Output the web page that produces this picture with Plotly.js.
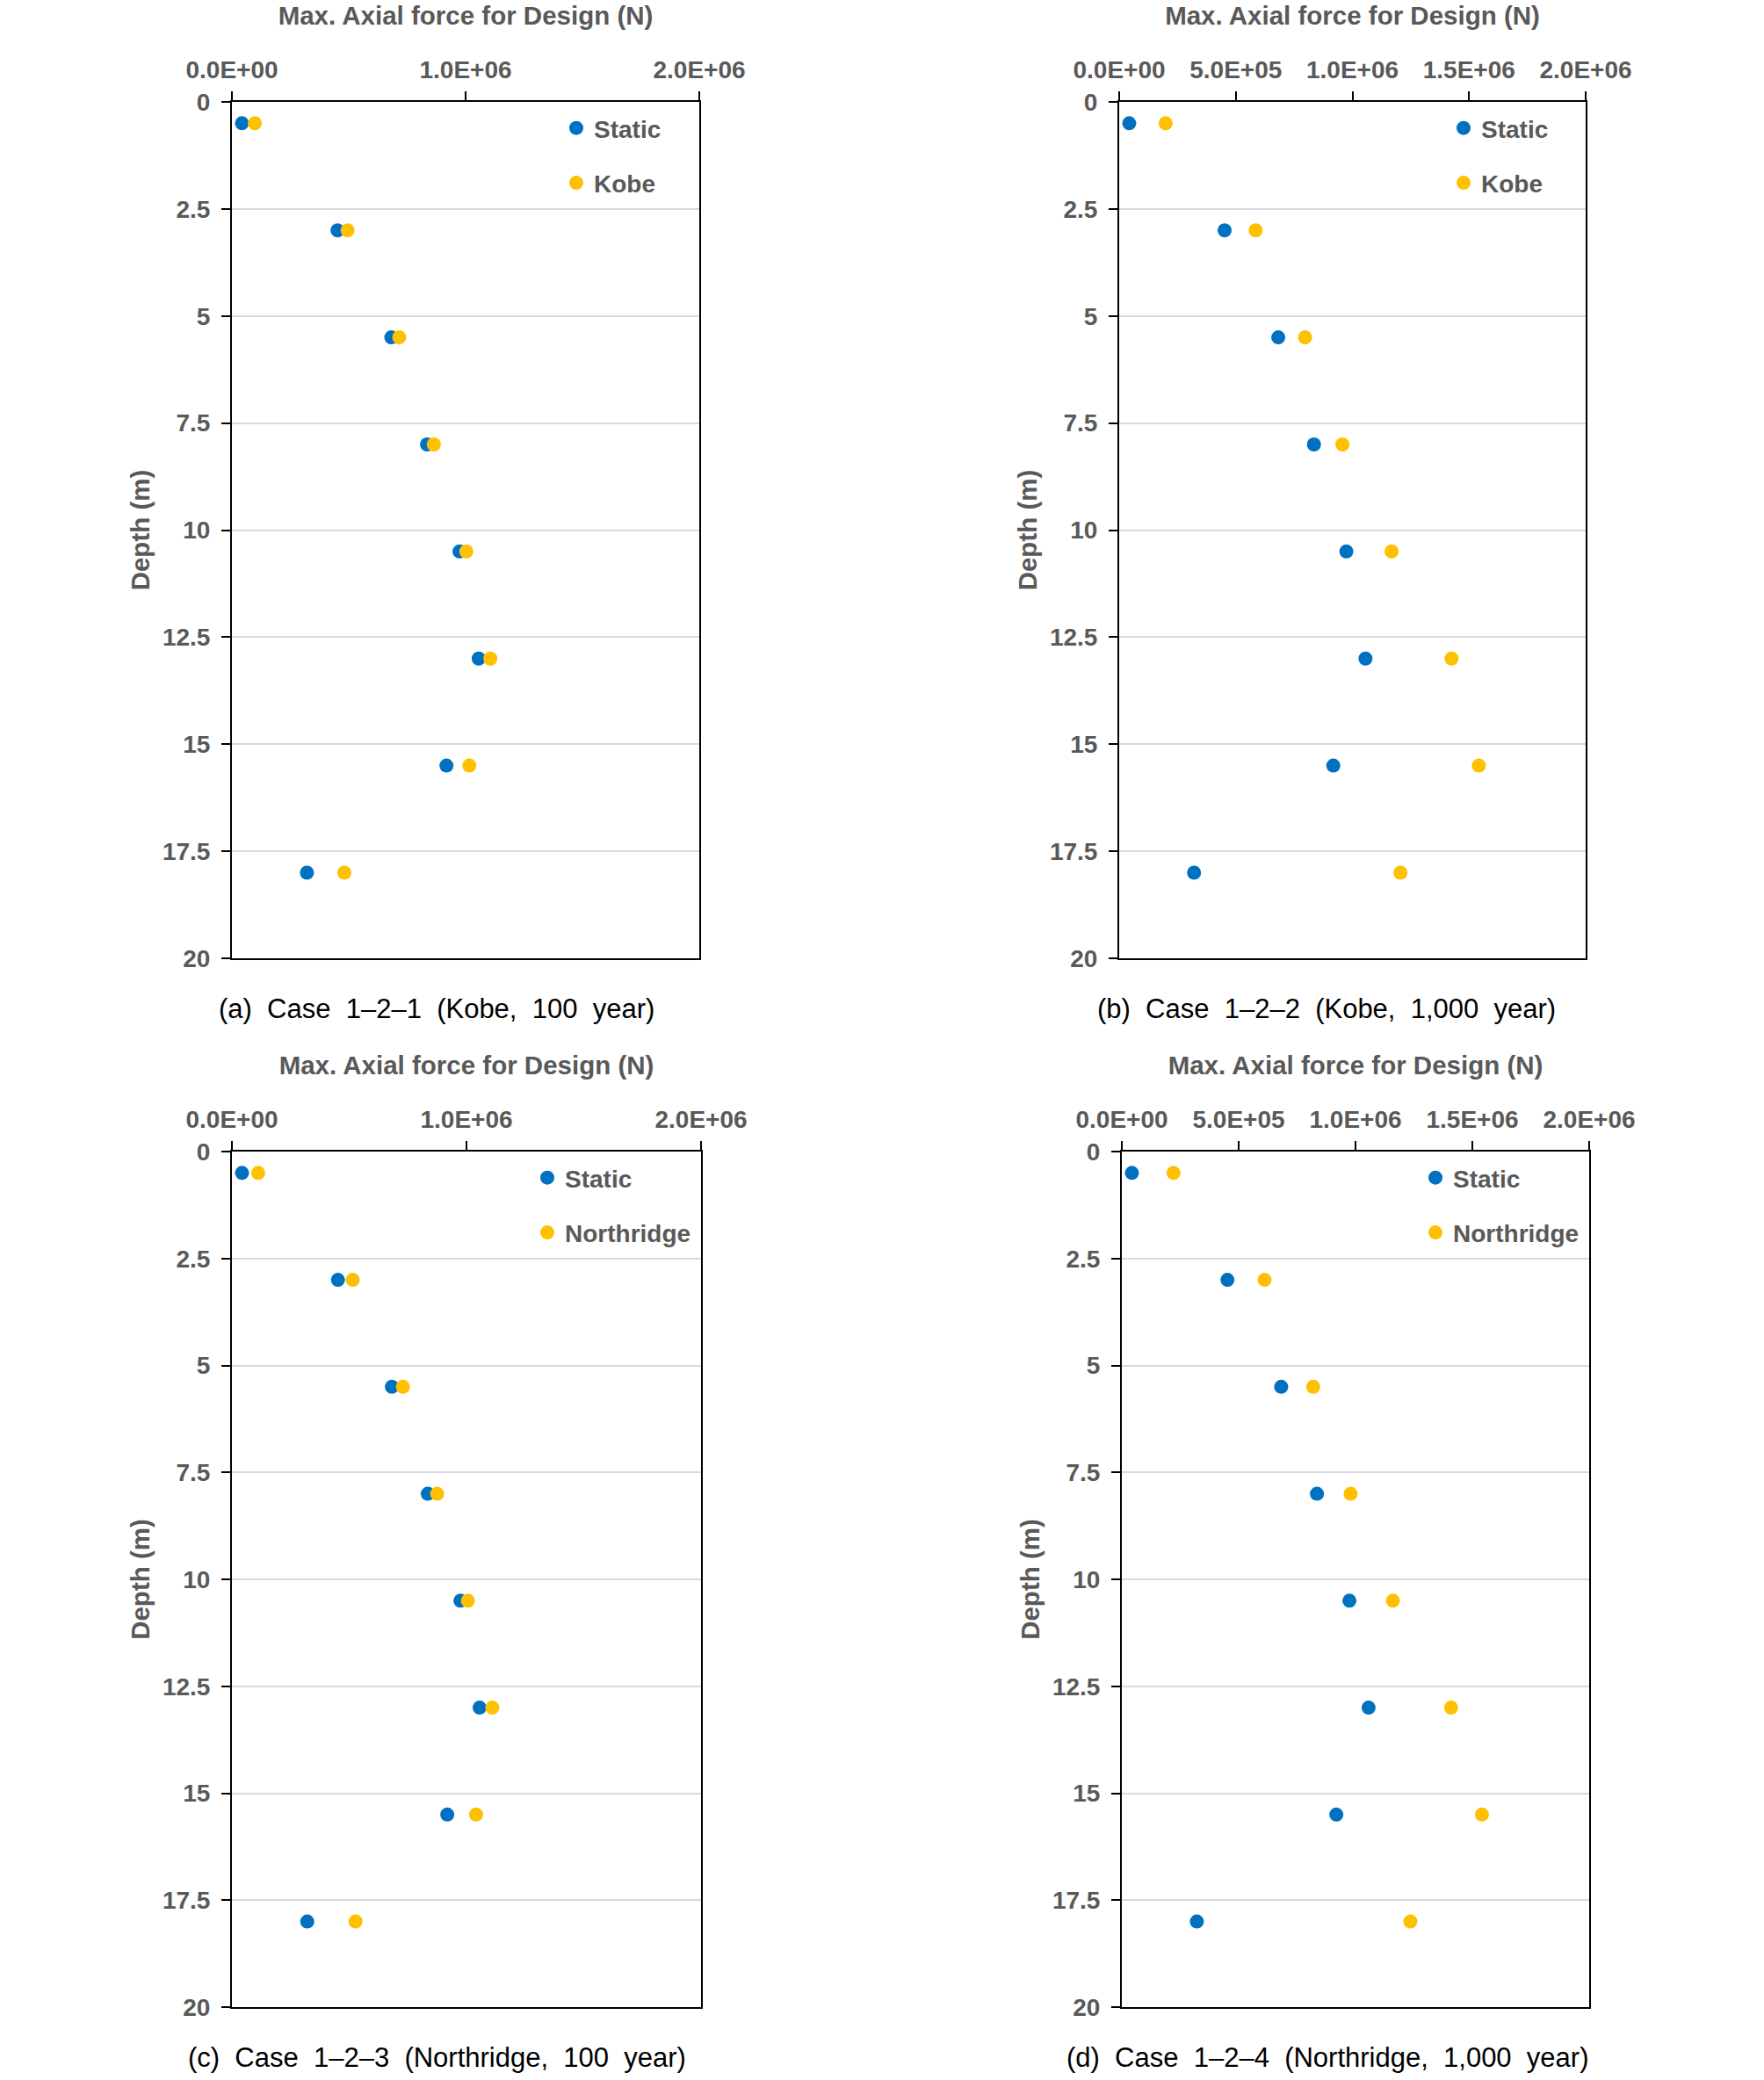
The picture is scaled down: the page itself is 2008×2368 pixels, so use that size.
<!DOCTYPE html>
<html>
<head>
<meta charset="utf-8">
<script src="https://cdn.plot.ly/plotly-3.0.1.min.js"></script>
<style>
  html, body { margin: 0; padding: 0; background: #ffffff; }
  #chart { width: 2008px; height: 2368px; }
</style>
</head>
<body>
<div id="chart"></div>
<script>
// ---------------- DATA ----------------
const depth = [0.5, 3, 5.5, 8, 10.5, 13, 15.5, 18];

// Static design axial force (N) – same in every case
const staticForce = [43000, 452000, 682000, 835000, 974000, 1056000, 918000, 321000];

// Seismic design axial force (N)
const kobe100 = [98000, 495000, 716000, 864000, 1003000, 1106000, 1016000, 481000];
const kobe1000 = [199000, 585000, 797000, 957000, 1168000, 1425000, 1542000, 1206000];
const northridge100 = [112000, 515000, 729000, 875000, 1006000, 1110000, 1041000, 527000];
const northridge1000 = [221000, 611000, 819000, 979000, 1160000, 1409000, 1541000, 1235000];

const seriesNames = ['Static', 'Kobe', 'Kobe', 'Northridge', 'Northridge'];

const captions = [
  '(a) Case 1\u20132\u20131 (Kobe, 100 year)',
  '(b) Case 1\u20132\u20132 (Kobe, 1,000 year)',
  '(c) Case 1\u20132\u20133 (Northridge, 100 year)',
  '(d) Case 1\u20132\u20134 (Northridge, 1,000 year)'
];

// tick labels
const xTickValsCoarse = [0, 1000000, 2000000];
const xTickTextCoarse = ['0.0E+00', '1.0E+06', '2.0E+06'];
const xTickValsFine = [0, 500000, 1000000, 1500000, 2000000];
const xTickTextFine = ['0.0E+00', '5.0E+05', '1.0E+06', '1.5E+06', '2.0E+06'];
const yTickVals = [0, 2.5, 5, 7.5, 10, 12.5, 15, 17.5, 20];
const yTickText = ['0', '2.5', '5', '7.5', '10', '12.5', '15', '17.5', '20'];

const xTitle = 'Max. Axial force for Design (N)';
const yTitle = 'Depth (m)';

// ---------------- STYLE / LAYOUT ----------------
const W = 2008, H = 2368;
const fx = v => v / W;
const fy = v => 1 - v / H;

const BLUE = '#0070C0';
const GOLD = '#FFC000';
const GREY = '#595959';
const FONT = 'Liberation Sans, Arial, Helvetica, sans-serif';
const CAPFONT = 'Liberation Sans, Arial, sans-serif';
const SP = '\u00A0 ';

const panels = [
  { seis: kobe100, name: seriesNames[1], px: [264, 796], py: [116, 1091], ticks: 'coarse', leg: [636, 121], cap: [497, 1148] },
  { seis: kobe1000, name: seriesNames[2], px: [1274, 1805], py: [116, 1091], ticks: 'fine', leg: [1646, 121], cap: [1510, 1148] },
  { seis: northridge100, name: seriesNames[3], px: [264, 798], py: [1311, 2285], ticks: 'coarse', leg: [603, 1316], cap: [497, 2342] },
  { seis: northridge1000, name: seriesNames[4], px: [1277, 1809], py: [1311, 2285], ticks: 'fine', leg: [1614, 1316], cap: [1511, 2342] }
];

const tickFont = { family: FONT, size: 28, color: GREY, weight: 'bold' };
const titleFont = { family: FONT, size: 29.5, color: GREY, weight: 'bold' };

const data = [];
const layout = {
  width: W, height: H,
  margin: { l: 0, r: 0, t: 0, b: 0 },
  paper_bgcolor: '#ffffff',
  plot_bgcolor: '#ffffff',
  showlegend: true,
  annotations: []
};

panels.forEach((p, i) => {
  const n = i + 1;
  const xa = n === 1 ? 'x' : 'x' + n;
  const ya = n === 1 ? 'y' : 'y' + n;
  const legId = n === 1 ? 'legend' : 'legend' + n;
  const fine = p.ticks === 'fine';
  const xtv = fine ? xTickValsFine : xTickValsCoarse;

  data.push({
    type: 'scatter', mode: 'markers',
    x: staticForce, y: depth,
    xaxis: xa, yaxis: ya,
    name: seriesNames[0],
    legend: legId, legendgroup: 'g' + n + 's',
    marker: { color: BLUE, size: 16 },
    cliponaxis: false
  });
  data.push({
    type: 'scatter', mode: 'markers',
    x: p.seis, y: depth,
    xaxis: xa, yaxis: ya,
    name: p.name,
    legend: legId, legendgroup: 'g' + n + 'e',
    marker: { color: GOLD, size: 16 },
    cliponaxis: false
  });

  layout['xaxis' + (n === 1 ? '' : n)] = {
    domain: [fx(p.px[0]), fx(p.px[1])],
    anchor: ya,
    side: 'top',
    range: [0, 2000000],
    tickmode: 'array',
    tickvals: xtv,
    ticktext: fine ? xTickTextFine : xTickTextCoarse,
    ticks: 'outside', ticklen: 10, tickwidth: 2, tickcolor: '#000000',
    ticklabelstandoff: 4,
    showline: true, linecolor: '#000000', linewidth: 2, mirror: true,
    showgrid: false, zeroline: false,
    tickfont: tickFont,
    title: { text: xTitle, font: titleFont, standoff: 26 },
    fixedrange: true
  };
  layout['yaxis' + (n === 1 ? '' : n)] = {
    domain: [fy(p.py[1]), fy(p.py[0])],
    anchor: xa,
    range: [20, 0],
    tickmode: 'array',
    tickvals: yTickVals,
    ticktext: yTickText,
    ticks: 'outside', ticklen: 10, tickwidth: 2, tickcolor: '#000000',
    ticklabelstandoff: 7,
    showline: true, linecolor: '#000000', linewidth: 2, mirror: true,
    showgrid: true, gridcolor: '#d9d9d9', gridwidth: 2,
    zeroline: false,
    tickfont: tickFont,
    title: { text: yTitle, font: titleFont, standoff: 6 },
    fixedrange: true
  };
  // overlay axes that draw the inner half of the crossing tick marks
  layout['xaxis' + (n + 4)] = {
    overlaying: xa, anchor: ya, side: 'top',
    range: [0, 2000000],
    tickmode: 'array', tickvals: xtv,
    ticks: 'inside', ticklen: 9, tickwidth: 2, tickcolor: '#000000',
    showticklabels: false, showline: false, showgrid: false, zeroline: false,
    fixedrange: true
  };
  layout['yaxis' + (n + 4)] = {
    overlaying: ya, anchor: xa, side: 'left',
    range: [20, 0],
    tickmode: 'array', tickvals: yTickVals,
    ticks: 'inside', ticklen: 9, tickwidth: 2, tickcolor: '#000000',
    showticklabels: false, showline: false, showgrid: false, zeroline: false,
    fixedrange: true
  };
  layout[legId] = {
    x: fx(p.leg[0]), y: fy(p.leg[1]),
    xanchor: 'left', yanchor: 'top',
    bgcolor: 'rgba(0,0,0,0)',
    borderwidth: 0,
    font: { family: FONT, size: 28, color: GREY, weight: 'bold' },
    traceorder: 'grouped',
    tracegroupgap: 23,
    itemclick: false, itemdoubleclick: false
  };
  layout.annotations.push({
    xref: 'paper', yref: 'paper',
    x: fx(p.cap[0]), y: fy(p.cap[1]),
    xanchor: 'center', yanchor: 'middle',
    showarrow: false,
    text: captions[i].split(' ').join(SP),
    font: { family: CAPFONT, size: 31, color: '#000000' }
  });
});

Plotly.newPlot('chart', data, layout, { displayModeBar: false, responsive: false });
</script>
</body>
</html>
